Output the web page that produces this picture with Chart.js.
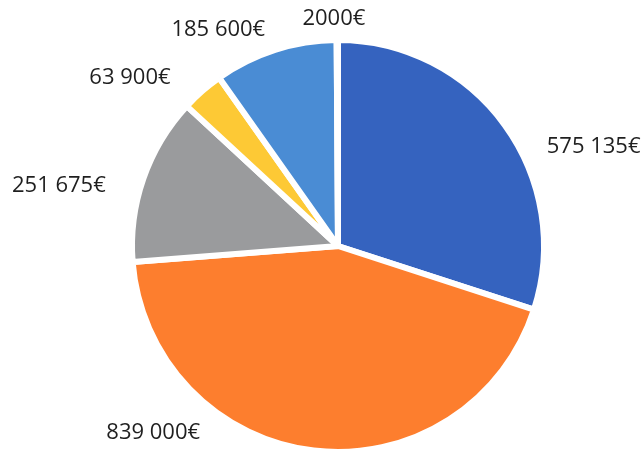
<!DOCTYPE html>
<html>
<head>
<meta charset="utf-8">
<script src="https://cdn.jsdelivr.net/npm/chart.js@4"></script>
<style>
  html, body { margin: 0; padding: 0; background: #fff; overflow: hidden; }
  #wrap { width: 643px; height: 449px; overflow: hidden; }
</style>
</head>
<body>
<div id="wrap"><canvas id="pieChart" width="643" height="460"></canvas></div>
<script>
// Data, clockwise from 12 o'clock
const labels = ["575 135€", "839 000€", "251 675€", "63 900€", "185 600€", "2000€"];
const amounts = [575135, 839000, 251675, 63900, 185600, 2000];
const sliceColors = ["#3563bf", "#fd7e2e", "#9a9b9d", "#fdc935", "#4a8cd4", "#3a5fc8"];

// where each label sits, relative to pie centre, in units of the radius
const labelOffsets = [
  [1.241, -0.483],
  [-0.897, 0.906],
  [-1.355, -0.291],
  [-1.010, -0.818],
  [-0.581, -1.049],
  [-0.020, -1.103],
];

const outsideLabels = {
  id: "outsideLabels",
  afterDraw(chart) {
    const ctx = chart.ctx;
    const arc = chart.getDatasetMeta(0).data[0];
    if (!arc) return;
    const cx = arc.x, cy = arc.y, r = arc.outerRadius;
    ctx.save();
    ctx.font = "500 22px 'Open Sans'";
    ctx.fillStyle = "#1f1f1f";
    ctx.textAlign = "center";
    ctx.textBaseline = "middle";
    labels.forEach((txt, i) => {
      const off = labelOffsets[i];
      ctx.fillText(txt, cx + off[0] * r, cy + off[1] * r);
    });
    ctx.restore();
  },
};

const ctx = document.getElementById("pieChart").getContext("2d");

const myChart = new Chart(ctx, {
  type: "pie",
  data: {
    labels: labels,
    datasets: [
      {
        data: amounts,
        backgroundColor: sliceColors,
        borderColor: "#ffffff",
        borderWidth: 6,
        hoverOffset: 0,
      },
    ],
  },
  options: {
    responsive: false,
    animation: false,
    layout: {
      padding: { left: 129, right: 96, top: 37, bottom: 5 },
    },
    plugins: {
      legend: { display: false },
      tooltip: { enabled: false },
    },
  },
  plugins: [outsideLabels],
});
</script>
</body>
</html>
